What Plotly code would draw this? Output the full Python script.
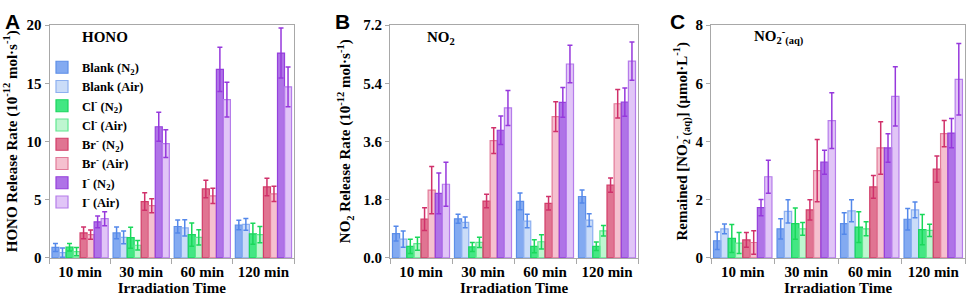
import plotly.graph_objects as go

times = ["10 min", "30 min", "60 min", "120 min"]
series = ["Blank (N<sub>2</sub>)", "Blank (Air)", "Cl<sup>-</sup> (N<sub>2</sub>)", "Cl<sup>-</sup> (Air)",
          "Br<sup>-</sup> (N<sub>2</sub>)", "Br<sup>-</sup> (Air)", "I<sup>-</sup> (N<sub>2</sub>)", "I<sup>-</sup> (Air)"]

# HONO release rate (10^-12 mol s^-1): one list per series, values at 10/30/60/120 min
hono_blank_n2 = [0.9, 2.15, 2.7, 2.83]
hono_blank_air = [0.46, 1.77, 2.58, 2.88]
hono_cl_n2 = [0.92, 1.74, 2.0, 2.07]
hono_cl_air = [0.54, 1.09, 1.77, 2.0]
hono_br_n2 = [2.15, 4.84, 5.93, 6.1]
hono_br_air = [2.0, 4.49, 5.33, 5.5]
hono_i_n2 = [3.1, 11.27, 16.2, 17.6]
hono_i_air = [3.37, 9.82, 13.6, 14.7]
hono_err_blank_n2 = [0.35, 0.5, 0.55, 0.4]
hono_err_blank_air = [0.4, 0.55, 0.7, 0.5]
hono_err_cl_n2 = [0.33, 0.9, 1.0, 0.9]
hono_err_cl_air = [0.35, 0.4, 0.65, 0.7]
hono_err_br_n2 = [0.5, 0.75, 0.75, 0.75]
hono_err_br_air = [0.4, 0.6, 0.65, 0.65]
hono_err_i_n2 = [0.5, 1.25, 1.9, 2.15]
hono_err_i_air = [0.6, 1.2, 1.5, 1.7]

# NO2 release rate (10^-12 mol s^-1)
no2_blank_n2 = [0.75, 1.21, 1.75, 1.9]
no2_blank_air = [0.58, 1.1, 1.14, 1.17]
no2_cl_n2 = [0.36, 0.34, 0.36, 0.36]
no2_cl_air = [0.44, 0.48, 0.5, 0.84]
no2_br_n2 = [1.2, 1.76, 1.69, 2.25]
no2_br_air = [2.1, 3.63, 4.37, 4.77]
no2_i_n2 = [2.0, 3.95, 4.81, 4.82]
no2_i_air = [2.28, 4.64, 6.0, 6.09]
no2_err_blank_n2 = [0.23, 0.14, 0.26, 0.2]
no2_err_blank_air = [0.25, 0.17, 0.21, 0.2]
no2_err_cl_n2 = [0.22, 0.14, 0.2, 0.13]
no2_err_cl_air = [0.2, 0.16, 0.22, 0.16]
no2_err_br_n2 = [0.35, 0.21, 0.21, 0.22]
no2_err_br_air = [0.73, 0.4, 0.46, 0.44]
no2_err_i_n2 = [0.63, 0.44, 0.46, 0.44]
no2_err_i_air = [0.68, 0.54, 0.58, 0.59]

# Remained NO2-(aq) (umol L^-1)
aq_blank_n2 = [0.59, 1.0, 1.18, 1.33]
aq_blank_air = [1.0, 1.6, 1.62, 1.65]
aq_cl_n2 = [0.67, 1.18, 1.06, 0.97]
aq_cl_air = [0.51, 1.0, 1.0, 0.95]
aq_br_n2 = [0.62, 1.65, 2.44, 3.05]
aq_br_air = [0.53, 3.0, 3.78, 4.27]
aq_i_n2 = [1.73, 3.29, 3.78, 4.29]
aq_i_air = [2.79, 4.72, 5.55, 6.14]
aq_err_blank_n2 = [0.3, 0.35, 0.37, 0.37]
aq_err_blank_air = [0.17, 0.4, 0.38, 0.27]
aq_err_cl_n2 = [0.48, 0.54, 0.53, 0.52]
aq_err_cl_air = [0.36, 0.22, 0.24, 0.21]
aq_err_br_n2 = [0.25, 0.35, 0.39, 0.45]
aq_err_br_air = [0.4, 1.07, 0.9, 0.45]
aq_err_i_n2 = [0.28, 0.41, 0.49, 0.5]
aq_err_i_air = [0.57, 0.96, 1.02, 1.23]

fills = ["rgba(100,149,237,0.80)", "rgba(150,185,242,0.50)", "rgba(20,225,100,0.80)", "rgba(110,235,150,0.45)",
         "rgba(214,70,110,0.75)", "rgba(236,130,160,0.50)", "rgba(155,80,225,0.80)", "rgba(200,150,240,0.55)"]
lines = ["#5E8FE8", "#8DB0F0", "#1AD65E", "#60E890", "#D23C68", "#E27A98", "#9540DC", "#B57CEA"]
errc = ["#5488EA", "#5488EA", "#19D85A", "#19D85A", "#D0306A", "#D0306A", "#9638DC", "#9638DC"]

panels = [
    ([hono_blank_n2, hono_blank_air, hono_cl_n2, hono_cl_air, hono_br_n2, hono_br_air, hono_i_n2, hono_i_air],
     [hono_err_blank_n2, hono_err_blank_air, hono_err_cl_n2, hono_err_cl_air, hono_err_br_n2, hono_err_br_air, hono_err_i_n2, hono_err_i_air]),
    ([no2_blank_n2, no2_blank_air, no2_cl_n2, no2_cl_air, no2_br_n2, no2_br_air, no2_i_n2, no2_i_air],
     [no2_err_blank_n2, no2_err_blank_air, no2_err_cl_n2, no2_err_cl_air, no2_err_br_n2, no2_err_br_air, no2_err_i_n2, no2_err_i_air]),
    ([aq_blank_n2, aq_blank_air, aq_cl_n2, aq_cl_air, aq_br_n2, aq_br_air, aq_i_n2, aq_i_air],
     [aq_err_blank_n2, aq_err_blank_air, aq_err_cl_n2, aq_err_cl_air, aq_err_br_n2, aq_err_br_air, aq_err_i_n2, aq_err_i_air]),
]

W, H = 969, 303
SERIF = "Liberation Serif"
fig = go.Figure()
for p, (vals, errs) in enumerate(panels):
    xa = "x" if p == 0 else f"x{p+1}"
    ya = "y" if p == 0 else f"y{p+1}"
    for i in range(8):
        fig.add_trace(go.Bar(
            x=times, y=vals[i], name=series[i], xaxis=xa, yaxis=ya,
            showlegend=(p == 0), legendgroup=str(i),
            marker=dict(color=fills[i], line=dict(color=lines[i], width=1.2)),
            error_y=dict(type="data", array=errs[i], visible=True, color=errc[i], thickness=1.5, width=2.5),
        ))

def px_x(a, b):
    return [a / W, b / W]

ydom = [(H - 264) / H, (H - 18.5) / H]
xdoms = [px_x(49.5, 294), px_x(390, 638), px_x(711, 965)]
yranges = [[0, 20.05], [0, 7.22], [0, 8.02]]
dticks = [5, 1.8, 2]
ytitles = ["HONO Release Rate (10<sup>-12</sup> mol·s<sup>-1</sup>)",
           "NO<sub>2</sub> Release Rate (10<sup>-12</sup> mol·s<sup>-1</sup>)",
           "Remained [NO<sub>2</sub><sup>-</sup><sub>(aq)</sub>] (µmol·L<sup>-1</sup>)"]
ystandoff = [5, 8, 4]
tfmt = ["d", ".1f", "d"]
tick_font = dict(family=SERIF, size=15, color="black", weight="bold")
layout = {}
for p in range(3):
    sx = "xaxis" if p == 0 else f"xaxis{p+1}"
    sy = "yaxis" if p == 0 else f"yaxis{p+1}"
    ya = "y" if p == 0 else f"y{p+1}"
    xa = "x" if p == 0 else f"x{p+1}"
    layout[sx] = dict(domain=xdoms[p], anchor=ya, showline=True, mirror=True, linecolor="#A8A8A8", linewidth=1,
                      ticks="outside", tickson="boundaries", ticklen=5, tickcolor="#A8A8A8",
                      tickfont=tick_font, showgrid=False,
                      title=dict(text="Irradiation Time", font=tick_font, standoff=3))
    layout[sy] = dict(domain=ydom, anchor=xa, range=yranges[p], dtick=dticks[p], tick0=0, tickformat=tfmt[p],
                      showline=True, mirror=True, linecolor="#A8A8A8", linewidth=1,
                      ticks="outside", ticklen=4, tickcolor="#A8A8A8", tickfont=tick_font, showgrid=False,
                      zeroline=False,
                      title=dict(text=ytitles[p], font=dict(family=SERIF, size=15, color="black", weight="bold"),
                                 standoff=ystandoff[p]))

fig.update_layout(
    width=W, height=H, margin=dict(l=0, r=0, t=0, b=0),
    paper_bgcolor="white", plot_bgcolor="white",
    barmode="group", bargap=0.08, bargroupgap=0,
    legend=dict(x=42 / W, y=1 - 48 / H, xanchor="left", yanchor="top", bgcolor="rgba(0,0,0,0)",
                font=dict(family=SERIF, size=12.5, color="black", weight="bold"), tracegroupgap=0),
    **layout,
)

annos = [
    dict(text="A", x=3, y=1, font=dict(family="Liberation Sans", size=21, color="black", weight="bold")),
    dict(text="B", x=333, y=1, font=dict(family="Liberation Sans", size=21, color="black", weight="bold")),
    dict(text="C", x=668, y=1, font=dict(family="Liberation Sans", size=21, color="black", weight="bold")),
    dict(text="HONO", x=80, y=21, font=dict(family=SERIF, size=15, color="black", weight="bold")),
    dict(text="NO<sub>2</sub>", x=425, y=21, font=dict(family=SERIF, size=15, color="black", weight="bold")),
    dict(text="NO<sub>2</sub><sup>-</sup><sub>(aq)</sub>", x=752, y=18, font=dict(family=SERIF, size=15, color="black", weight="bold")),
]
for a in annos:
    fig.add_annotation(text=a["text"], x=a["x"] / W, y=1 - a["y"] / H, xref="paper", yref="paper",
                       xanchor="left", yanchor="top", showarrow=False, font=a["font"])

fig.write_html("out.html", config={"displayModeBar": False},
               post_script="document.body.style.margin='0';document.body.style.overflow='hidden';")
